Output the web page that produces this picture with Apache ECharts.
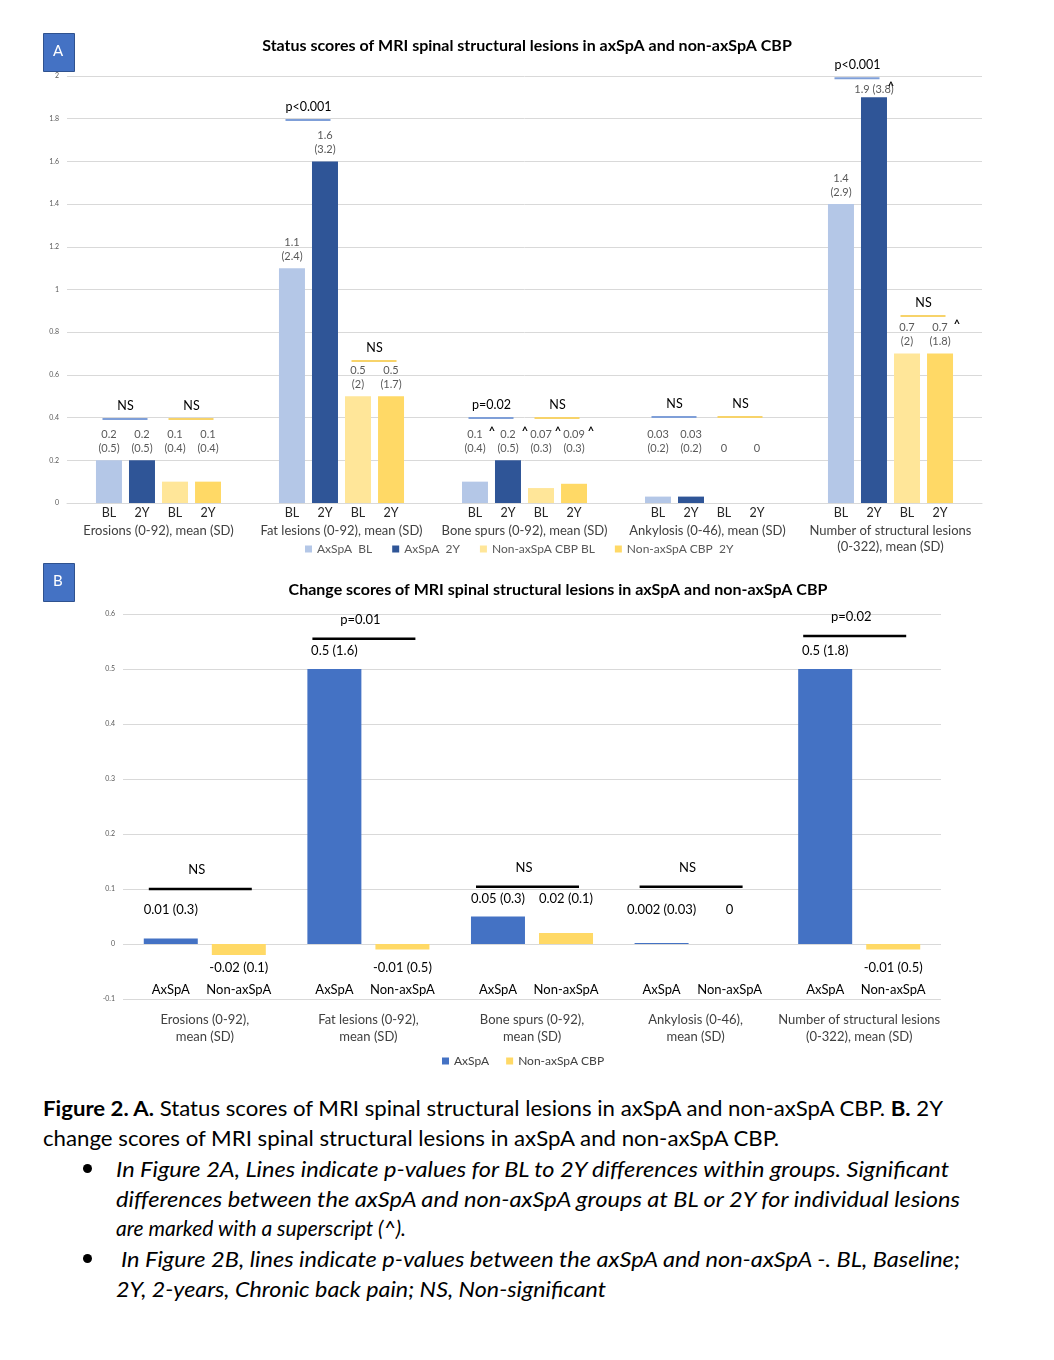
<!DOCTYPE html>
<html>
<head>
<meta charset="utf-8">
<script src="https://cdn.jsdelivr.net/npm/echarts@6/dist/echarts.min.js"></script>
<style>
  body { margin:0; background:#fff; width:1054px; height:1360px; position:relative; overflow:hidden; font-family: Lato, "Noto Sans", sans-serif; }
  #chart { position:absolute; left:0; top:0; width:1054px; height:1080px; }
  .ln { position:absolute; white-space:nowrap; font-size:21px; line-height:30px; color:#000; transform-origin:0 50%; }
  .it { font-style:italic; }
  .bul { position:absolute; width:9px; height:9px; border-radius:50%; background:#000; }
</style>
</head>
<body>
<div id="chart"></div>
<div class="ln" style="left:43px;top:1093px" data-w="900"><b>Figure 2. A.</b> Status scores of MRI spinal structural lesions in axSpA and non-axSpA CBP. <b>B.</b> 2Y</div>
<div class="ln" style="left:43px;top:1123px" data-w="736">change scores of MRI spinal structural lesions in axSpA and non-axSpA CBP.</div>
<div class="bul" style="left:83px;top:1164px"></div>
<div class="ln it" style="left:116px;top:1154px" data-w="833">In Figure 2A, Lines indicate p-values for BL to 2Y differences within groups. Significant</div>
<div class="ln it" style="left:116px;top:1184px" data-w="844">differences between the axSpA and non-axSpA groups at BL or 2Y for individual lesions</div>
<div class="ln it" style="left:116px;top:1213px" data-w="290">are marked with a superscript (^).</div>
<div class="bul" style="left:83px;top:1254px"></div>
<div class="ln it" style="left:121px;top:1244px" data-w="839">In Figure 2B, lines indicate p-values between the axSpA and non-axSpA -. BL, Baseline;</div>
<div class="ln it" style="left:116px;top:1274px" data-w="490">2Y, 2-years, Chronic back pain; NS, Non-significant</div>
<script>
// ---------- Panel A data ----------
const categoriesA = ['Erosions (0-92), mean (SD)', 'Fat lesions (0-92), mean (SD)', 'Bone spurs (0-92), mean (SD)', 'Ankylosis (0-46), mean (SD)', 'Number of structural lesions\n(0-322), mean (SD)'];
const seriesNamesA = ['AxSpA  BL', 'AxSpA  2Y', 'Non-axSpA CBP BL', 'Non-axSpA CBP  2Y'];
const axspaBL = [0.2, 1.1, 0.1, 0.03, 1.4];
const axspaBL_sd = [0.5, 2.4, 0.4, 0.2, 2.9];
const axspa2Y = [0.2, 1.6, 0.2, 0.03, 1.9];
const axspa2Y_sd = [0.5, 3.2, 0.5, 0.2, 3.8];
const nonBL = [0.1, 0.5, 0.07, 0, 0.7];
const nonBL_sd = [0.4, 2, 0.3, null, 2];
const non2Y = [0.1, 0.5, 0.09, 0, 0.7];
const non2Y_sd = [0.4, 1.7, 0.3, null, 1.8];
const caretAxBL = [false, false, true, false, false];
const caretAx2Y = [false, false, true, false, true];
const caretNonBL = [false, false, true, false, false];
const caretNon2Y = [false, false, true, false, true];
const subLabelsA = ['BL', '2Y', 'BL', '2Y'];
const pAxspaA = ['NS', 'p<0.001', 'p=0.02', 'NS', 'p<0.001'];
const pAxspaA_level = [0.393, 1.794, 0.398, 0.403, 1.99];
const pNonA = ['NS', 'NS', 'NS', 'NS', 'NS'];
const pNonA_level = [0.393, 0.665, 0.398, 0.403, 0.876];

// ---------- Panel B data ----------
const categoriesB = ['Erosions (0-92),\nmean (SD)', 'Fat lesions (0-92),\nmean (SD)', 'Bone spurs (0-92),\nmean (SD)', 'Ankylosis (0-46),\nmean (SD)', 'Number of structural lesions\n(0-322), mean (SD)'];
const seriesNamesB = ['AxSpA', 'Non-axSpA CBP'];
const changeAx = [0.01, 0.5, 0.05, 0.002, 0.5];
const changeAx_sd = [0.3, 1.6, 0.3, 0.03, 1.8];
const changeNon = [-0.02, -0.01, 0.02, 0, -0.01];
const changeNon_sd = [0.1, 0.5, 0.1, null, 0.5];
const subLabelsB = ['AxSpA', 'Non-axSpA'];
const pB = ['NS', 'p=0.01', 'NS', 'NS', 'p=0.02'];
const pB_level = [0.1, 0.555, 0.104, 0.104, 0.56];

const FONT = 'Lato, "Noto Sans", sans-serif';
const colA = ['#B4C7E7', '#2F5597', '#FFE699', '#FFD966'];
const colB = ['#4472C4', '#FFD966'];

function renderA(params, api) {
  const i = api.value(0);
  const c0 = api.coord([i, 0]);
  const cx = c0[0], y0 = c0[1];
  const offs = [-49.5, -16.5, 16.5, 49.5];
  const vals = [axspaBL[i], axspa2Y[i], nonBL[i], non2Y[i]];
  const sds = [axspaBL_sd[i], axspa2Y_sd[i], nonBL_sd[i], non2Y_sd[i]];
  const carets = [caretAxBL[i], caretAx2Y[i], caretNonBL[i], caretNon2Y[i]];
  const ch = [];
  for (let j = 0; j < 4; j++) {
    const x = cx + offs[j];
    const v = vals[j];
    const oneLine = (v > 1.7) || sds[j] == null;
    const txt = sds[j] == null ? String(v) : (v > 1.7 ? v + ' (' + sds[j] + ')' : v + '\n(' + sds[j] + ')');
    const gap = v > 1.7 ? 1 : 5;
    const yb = api.coord([i, Math.max(v, 0.2)])[1] - gap;
    ch.push({ type: 'text', x: x, y: yb, style: { text: txt, align: 'center', verticalAlign: 'bottom', fill: '#595959', font: '11px ' + FONT, lineHeight: 14 } });
    if (carets[j]) {
      const firstLineC = yb - (oneLine ? 1 : 2) * 14 + 7;
      ch.push({ type: 'text', x: x + 17, y: firstLineC - 3, style: { text: '^', align: 'center', verticalAlign: 'middle', fill: '#000', font: 'bold 11px ' + FONT } });
    }
    ch.push({ type: 'text', x: x, y: y0 + 10, style: { text: subLabelsA[j], align: 'center', verticalAlign: 'middle', fill: '#262626', font: '12.5px ' + FONT } });
  }
  const pairs = [
    { pc: cx + (offs[0] + offs[1]) / 2, lvl: pAxspaA_level[i], t: pAxspaA[i], c: '#7F9FD8' },
    { pc: cx + (offs[2] + offs[3]) / 2, lvl: pNonA_level[i], t: pNonA[i], c: '#F7D36A' }
  ];
  pairs.forEach(function (p) {
    const y = api.coord([i, p.lvl])[1];
    ch.push({ type: 'line', shape: { x1: p.pc - 23, y1: y, x2: p.pc + 22, y2: y }, style: { stroke: p.c, lineWidth: 2 } });
    ch.push({ type: 'text', x: p.pc, y: y - 13, style: { text: p.t, align: 'center', verticalAlign: 'middle', fill: '#000', font: '12.5px ' + FONT } });
  });
  return { type: 'group', children: ch };
}

function renderB(params, api) {
  const i = api.value(0);
  const c0 = api.coord([i, 0]);
  const cx = c0[0], y0 = c0[1];
  const yBottom = api.coord([i, -0.1])[1];
  const offs = [-34, 34];
  const vals = [changeAx[i], changeNon[i]];
  const sds = [changeAx_sd[i], changeNon_sd[i]];
  const groupMax = Math.max(vals[0], vals[1]);
  const ch = [];
  for (let j = 0; j < 2; j++) {
    const x = cx + offs[j];
    const v = vals[j];
    const txt = sds[j] == null ? String(v) : v + ' (' + sds[j] + ')';
    const y = v >= 0 ? api.coord([i, Math.max(groupMax, 0.03)])[1] - 18 : y0 + 24;
    ch.push({ type: 'text', x: x, y: y, style: { text: txt, align: 'center', verticalAlign: 'middle', fill: '#000', font: '13px ' + FONT } });
    ch.push({ type: 'text', x: x, y: yBottom - 9, style: { text: subLabelsB[j], align: 'center', verticalAlign: 'middle', fill: '#000', font: '13px ' + FONT } });
  }
  const ly = api.coord([i, pB_level[i]])[1];
  ch.push({ type: 'line', shape: { x1: cx - 56, y1: ly, x2: cx + 47, y2: ly }, style: { stroke: '#000', lineWidth: 2.5 } });
  ch.push({ type: 'text', x: cx - 8, y: ly - 19, style: { text: pB[i], align: 'center', verticalAlign: 'middle', fill: '#000', font: '13px ' + FONT } });
  return { type: 'group', children: ch };
}

const chart = echarts.init(document.getElementById('chart'), null, { renderer: 'canvas' });
const idxData = categoriesA.map(function (_, k) { return [k, 0]; });

const option = {
  animation: false,
  textStyle: { fontFamily: FONT },
  title: [
    { text: 'Status scores of MRI spinal structural lesions in axSpA and non-axSpA CBP', left: 'center', top: 33, textStyle: { fontSize: 16, fontWeight: 'bold', color: '#000', fontFamily: FONT } },
    { text: 'Change scores of MRI spinal structural lesions in axSpA and non-axSpA CBP', left: 553, textAlign: 'center', top: 577, textStyle: { fontSize: 16, fontWeight: 'bold', color: '#000', fontFamily: FONT } }
  ],
  legend: [
    { data: seriesNamesA, left: 300, top: 538, icon: 'rect', itemWidth: 7, itemHeight: 7, itemGap: 20, textStyle: { fontSize: 12, color: '#595959', fontFamily: FONT } },
    { data: seriesNamesB, left: 437, top: 1050, icon: 'rect', itemWidth: 7, itemHeight: 7, itemGap: 17, textStyle: { fontSize: 12, color: '#404040', fontFamily: FONT } }
  ],
  grid: [
    { left: 67, right: 72, top: 76, height: 427 },
    { left: 123, right: 113, top: 614, height: 385 }
  ],
  xAxis: [
    { type: 'category', gridIndex: 0, data: categoriesA, axisLine: { show: true, onZero: false, lineStyle: { color: '#d9d9d9' } }, axisTick: { show: false },
      axisLabel: { interval: 0, margin: 20, fontSize: 13, lineHeight: 16, color: '#404040', fontFamily: FONT } },
    { type: 'category', gridIndex: 1, data: categoriesB, axisLine: { show: false, onZero: false }, axisTick: { show: false },
      axisLabel: { interval: 0, margin: 12, fontSize: 13, lineHeight: 17, color: '#404040', fontFamily: FONT } }
  ],
  yAxis: [
    { type: 'value', gridIndex: 0, min: 0, max: 2, interval: 0.2, axisLine: { show: false }, axisTick: { show: false },
      axisLabel: { fontSize: 7, color: '#595959', margin: 8 }, splitLine: { lineStyle: { color: '#d9d9d9' } } },
    { type: 'value', gridIndex: 1, min: -0.1, max: 0.6, interval: 0.1, axisLine: { show: false }, axisTick: { show: false },
      axisLabel: { fontSize: 7, color: '#595959', margin: 8 }, splitLine: { lineStyle: { color: '#d9d9d9' } } }
  ],
  series: [
    { name: seriesNamesA[0], type: 'bar', xAxisIndex: 0, yAxisIndex: 0, data: axspaBL, barWidth: 26, barGap: '27%', itemStyle: { color: colA[0] } },
    { name: seriesNamesA[1], type: 'bar', xAxisIndex: 0, yAxisIndex: 0, data: axspa2Y, barWidth: 26, barGap: '27%', itemStyle: { color: colA[1] } },
    { name: seriesNamesA[2], type: 'bar', xAxisIndex: 0, yAxisIndex: 0, data: nonBL, barWidth: 26, barGap: '27%', itemStyle: { color: colA[2] } },
    { name: seriesNamesA[3], type: 'bar', xAxisIndex: 0, yAxisIndex: 0, data: non2Y, barWidth: 26, barGap: '27%', itemStyle: { color: colA[3] } },
    { name: seriesNamesB[0], type: 'bar', xAxisIndex: 1, yAxisIndex: 1, data: changeAx, barWidth: 54, barGap: '26%', itemStyle: { color: colB[0] } },
    { name: seriesNamesB[1], type: 'bar', xAxisIndex: 1, yAxisIndex: 1, data: changeNon, barWidth: 54, barGap: '26%', itemStyle: { color: colB[1] } },
    { type: 'custom', name: 'annA', xAxisIndex: 0, yAxisIndex: 0, data: idxData, renderItem: renderA, silent: true, z: 10, clip: false },
    { type: 'custom', name: 'annB', xAxisIndex: 1, yAxisIndex: 1, data: idxData, renderItem: renderB, silent: true, z: 10, clip: false }
  ],
  graphic: [
    { type: 'rect', left: 43, top: 33, shape: { width: 31, height: 38 }, style: { fill: '#4472C4', stroke: '#2F528F', lineWidth: 1 } },
    { type: 'text', left: 53, top: 44, style: { text: 'A', fill: '#fff', font: '15px ' + FONT } },
    { type: 'rect', left: 43, top: 563, shape: { width: 31, height: 38 }, style: { fill: '#4472C4', stroke: '#2F528F', lineWidth: 1 } },
    { type: 'text', left: 53, top: 574, style: { text: 'B', fill: '#fff', font: '15px ' + FONT } }
  ]
};
chart.setOption(option);

function fitLines() {
  document.querySelectorAll('.ln').forEach(function (el) {
    el.style.transform = 'none';
    const w = el.getBoundingClientRect().width;
    const target = parseFloat(el.getAttribute('data-w'));
    if (w > 0) el.style.transform = 'scaleX(' + (target / w) + ')';
  });
}
fitLines();
if (document.fonts && document.fonts.ready) document.fonts.ready.then(fitLines);
</script>
</body>
</html>
